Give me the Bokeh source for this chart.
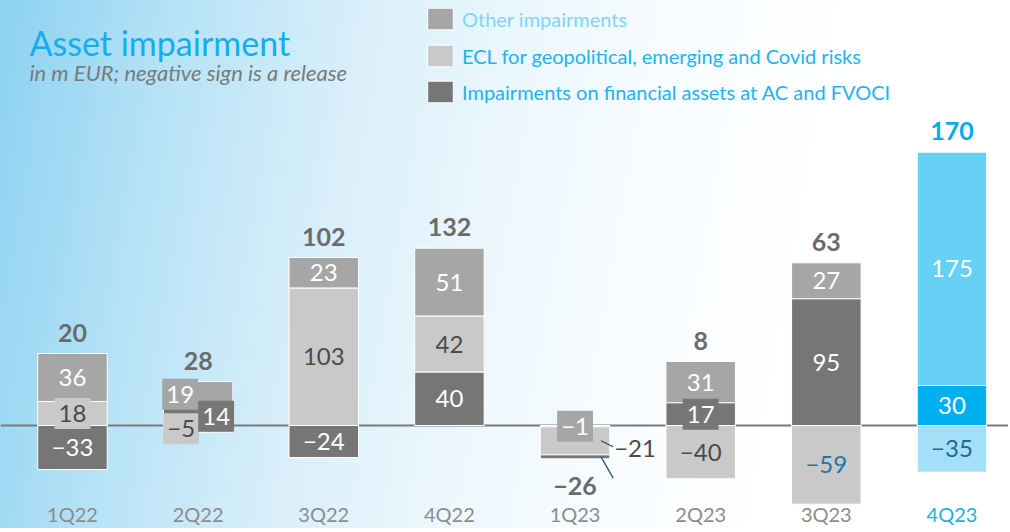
import numpy as np
from bokeh.plotting import figure
from bokeh.models import (ColumnDataSource, Range1d, Span, Label, LabelSet,
                          Legend, LegendItem, InlineStyleSheet)
from bokeh.embed import file_html
from bokeh.resources import INLINE
from bokeh.core.properties import value

# ---------------- data ----------------
quarters = ["1Q22", "2Q22", "3Q22", "4Q22", "1Q23", "2Q23", "3Q23", "4Q23"]
other = [36, 19, 23, 51, -1, 31, 27, 175]
ecl = [18, -5, 103, 42, -21, -40, -59, -35]
imp = [-33, 14, -24, 40, -3, 17, 95, 30]
totals = [20, 28, 102, 132, -26, 8, 63, 170]
series_labels = ["Other impairments",
                 "ECL for geopolitical, emerging and Covid risks",
                 "Impairments on financial assets at AC and FVOCI"]

# ---------------- style ----------------
W, H = 1008, 528
FONT = "Lato"
GRAY = {"other": "#a6a6a6", "ecl": "#c9c9c9", "imp": "#767676"}
HILITE = {"other": "#66d0f5", "ecl": "#a3e0f8", "imp": "#00b0f0"}
hilite_q = "4Q23"
TXT_ON = {"other": "#ffffff", "ecl": "#4a4a4a", "imp": "#ffffff"}
BAR_W = 0.553
# label nudges (pixels) and boxed labels: (quarter, series) -> options
label_style = {
    ("1Q22", "ecl"): dict(box=True),
    ("2Q22", "other"): dict(box=True, dx=-18),
    ("2Q22", "ecl"): dict(box=True, dx=-17),
    ("2Q22", "imp"): dict(box=True, dx=18),
    ("1Q23", "other"): dict(box=True),
    ("1Q23", "ecl"): dict(dx=60, dy=8, color="#4a4a4a"),
    ("1Q23", "imp"): dict(hide=True),
    ("2Q23", "imp"): dict(box=True),
    ("3Q23", "ecl"): dict(color="#1f76a6"),
    ("4Q23", "ecl"): dict(color="#1f6a90"),
}

vals = {"other": other, "ecl": ecl, "imp": imp}
keys = ["other", "ecl", "imp"]
n = len(quarters)
xs = np.arange(n, dtype=float)

# stacking: positives from zero imp -> ecl -> other ; negatives other -> ecl -> imp
seg_bot, seg_top = {}, {}
pos_base = np.zeros(n)
for k in ["imp", "ecl", "other"]:
    v = np.array(vals[k], float)
    pv = np.where(v > 0, v, 0.0)
    seg_bot[k] = pos_base.copy()
    seg_top[k] = pos_base + pv
    pos_base = pos_base + pv
neg_base = np.zeros(n)
for k in ["other", "ecl", "imp"]:
    v = np.array(vals[k], float)
    nv = np.where(v < 0, v, 0.0)
    seg_bot[k] = np.where(v < 0, neg_base + nv, seg_bot[k])
    seg_top[k] = np.where(v < 0, neg_base, seg_top[k])
    neg_base = neg_base + nv

p = figure(width=W, height=H, output_backend="svg", toolbar_location=None,
           x_range=Range1d(-0.5731, 7.450), y_range=Range1d(-77.25, 318.75),
           x_axis_location=None, y_axis_location=None, min_border=0,
           outline_line_color=None)
p.grid.visible = False
p.background_fill_alpha = 0
p.border_fill_alpha = 0
p.stylesheets = [InlineStyleSheet(css=":host { background: linear-gradient(100deg, #8cd2f1 0%, #b8e3f7 17%, #d9effa 33%, #eef8fd 50%, #fafdff 66%, #ffffff 80%); }")]

p.add_layout(Span(location=0, dimension="width", line_color="#7a7a7a",
                  line_width=2, level="underlay"))

renderers = {}
for k in keys:
    cols = [HILITE[k] if q == hilite_q else GRAY[k] for q in quarters]
    src = ColumnDataSource(dict(x=xs, top=seg_top[k], bottom=seg_bot[k], color=cols))
    renderers[k] = p.vbar(x="x", top="top", bottom="bottom", width=BAR_W, source=src,
                          fill_color="color", line_color="white", line_width=1)

# segment labels
L = dict(x=[], y=[], text=[], color=[], bg=[], bga=[], dx=[], dy=[])
for i, q in enumerate(quarters):
    for k in keys:
        st = label_style.get((q, k), {})
        if st.get("hide"):
            continue
        v = vals[k][i]
        L["x"].append(xs[i])
        L["y"].append((seg_bot[k][i] + seg_top[k][i]) / 2)
        L["text"].append(str(v).replace("-", "\u2212"))
        L["color"].append(st.get("color", "#ffffff" if q == hilite_q else TXT_ON[k]))
        L["bg"].append(HILITE[k] if q == hilite_q else GRAY[k])
        L["bga"].append(1.0 if st.get("box") else 0.0)
        L["dx"].append(st.get("dx", 0))
        L["dy"].append(st.get("dy", 0))
p.text(x="x", y="y", text="text", source=ColumnDataSource(L), text_color="color",
       text_font=value(FONT), text_font_size="24px", text_align="center",
       text_baseline="middle", x_offset="dx", y_offset="dy",
       background_fill_color="bg", background_fill_alpha="bga", padding=(4, 7))

# callout lines for 1Q23
qi = quarters.index("1Q23")
ecl_mid = (seg_bot["ecl"][qi] + seg_top["ecl"][qi]) / 2
imp_mid = (seg_bot["imp"][qi] + seg_top["imp"][qi]) / 2
x0 = xs[qi] + BAR_W / 2 - 0.07
x1 = xs[qi] + BAR_W / 2 + 0.027
p.segment(x0=[x0, x0], y0=[ecl_mid, imp_mid], x1=[x1, x1], y1=[ecl_mid - 4.5, imp_mid - 16],
          line_color="#1d4a72", line_width=1.2)

# totals
ty = [pos_base[i] if t >= 0 else neg_base[i] for i, t in enumerate(totals)]
tdy = [-21 if t >= 0 else 27 for t in totals]
tcol = ["#00aeef" if q == hilite_q else "#6b6b6b" for q in quarters]
p.text(x="x", y="y", text="t", source=ColumnDataSource(dict(
    x=xs, y=ty, t=[str(t).replace("-", "\u2212") for t in totals], c=tcol, dy=tdy)),
    text_color="c", text_font=value(FONT), text_font_style="bold", text_font_size="25px",
    text_align="center", text_baseline="middle", y_offset="dy")

# category labels
qsrc = ColumnDataSource(dict(x=xs, q=quarters,
                             c=["#1ab0e8" if q == hilite_q else "#8c8c8c" for q in quarters]))
p.add_layout(LabelSet(x="x", y=7, y_units="screen", text="q", source=qsrc, text_color="c",
                      text_font=value(FONT), text_font_size="20px", text_align="center",
                      text_baseline="alphabetic"))

# title
p.add_layout(Label(x=29, y=486, x_units="screen", y_units="screen", text="Asset impairment",
                   text_font=FONT, text_font_size="34px", text_color="#14aeea",
                   text_baseline="alphabetic"))
p.add_layout(Label(x=29, y=456, x_units="screen", y_units="screen",
                   text="in m EUR; negative sign is a release", text_font=FONT,
                   text_font_size="22px", text_font_style="italic", text_color="#7a7a7a",
                   text_baseline="alphabetic"))

# legend (one per entry so colours and rows can be set)
leg_rows = [("other", "#7fd5f5", 496), ("ecl", "#22b3ee", 459), ("imp", "#22b3ee", 423)]
for (k, col, ly), lab in zip(leg_rows, series_labels):
    leg = Legend(items=[LegendItem(label=lab, renderers=[renderers[k]], index=0)],
                 location=(424, ly), label_text_font=FONT, label_text_font_size="20px",
                 label_text_color=col, glyph_width=32, glyph_height=27, label_standoff=6,
                 label_height=22, padding=0, margin=0, spacing=0, border_line_color=None,
                 background_fill_alpha=0)
    p.add_layout(leg)

open("out.html", "w").write(file_html(p, INLINE))
